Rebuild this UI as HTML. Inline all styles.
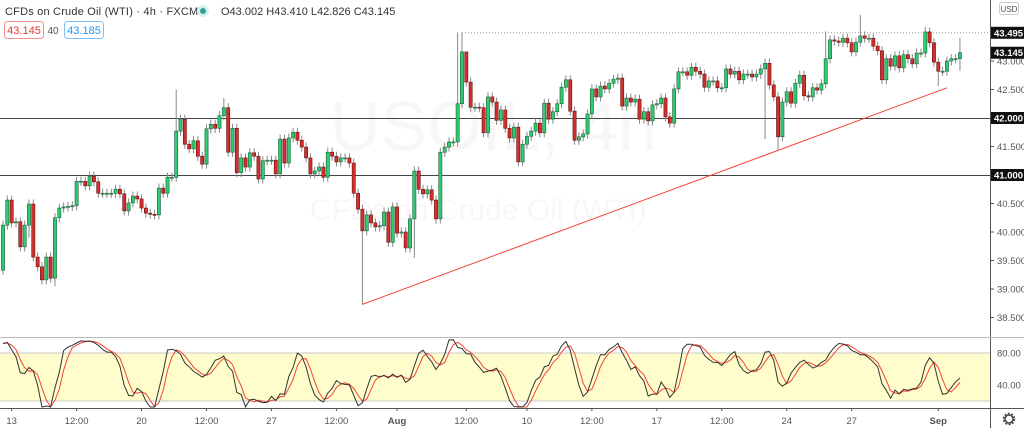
<!DOCTYPE html>
<html><head><meta charset="utf-8"><style>
html,body{margin:0;padding:0;background:#fff;width:1024px;height:428px;overflow:hidden;font-family:"Liberation Sans",sans-serif}
svg{display:block}
</style></head><body>
<svg id="c" width="1024" height="428" viewBox="0 0 1024 428" xmlns="http://www.w3.org/2000/svg">
<text x="330" y="150" font-size="70" fill="#f7f7f7">USOIL, 4h</text>
<text x="310" y="220" font-size="30" fill="#f7f7f7">CFDs on Crude Oil (WTI)</text>
<g id="main"></g>
<rect x="990" y="0" width="34" height="428" fill="#fff"/>
<line x1="990.5" y1="0" x2="990.5" y2="428" stroke="#555" stroke-width="1"/>
<line x1="0" y1="337.5" x2="1024" y2="337.5" stroke="#bbb" stroke-width="1"/>
<line x1="0" y1="408.5" x2="1024" y2="408.5" stroke="#555" stroke-width="1"/>
<g id="axis"></g>
<text x="5" y="15" font-size="11" fill="#333" letter-spacing="0.2">CFDs on Crude Oil (WTI) · 4h · FXCM</text>
<circle cx="203" cy="11" r="6" fill="#d6f0ec"/>
<circle cx="203" cy="11" r="3" fill="#26a69a"/>
<text x="221" y="15" font-size="11" fill="#333">O43.002 H43.410 L42.826 C43.145</text>
<rect x="4.5" y="21.5" width="39" height="17" rx="3" fill="#fff" stroke="#f09090"/>
<text x="24" y="34" font-size="11" fill="#e53935" text-anchor="middle">43.145</text>
<text x="53" y="34" font-size="10" fill="#555" text-anchor="middle">40</text>
<rect x="64.5" y="21.5" width="39" height="17" rx="3" fill="#fff" stroke="#7fbff5"/>
<text x="84" y="34" font-size="11" fill="#2196f3" text-anchor="middle">43.185</text>
<rect x="999.5" y="2.5" width="19" height="12" rx="2" fill="#fff" stroke="#ccc"/>
<text x="1009" y="12" font-size="8" fill="#555" text-anchor="middle">USD</text>
<g transform="translate(1009,419)">
<circle r="4" fill="none" stroke="#444" stroke-width="1.5"/>
<circle r="5.5" fill="none" stroke="#444" stroke-width="1.5" stroke-dasharray="2 1.5"/>
</g>
</svg>
<script>
const closes=[40.12,40.56,40.16,40.18,39.74,40.12,40.49,39.56,39.39,39.16,39.56,39.19,40.25,40.42,40.44,40.45,40.46,40.89,40.89,40.81,40.98,40.88,40.68,40.68,40.68,40.68,40.75,40.67,40.37,40.51,40.63,40.58,40.42,40.33,40.31,40.30,40.77,40.68,40.96,40.96,41.77,41.98,41.54,41.46,41.60,41.33,41.19,41.81,41.89,41.82,42.04,42.18,41.40,41.82,41.04,41.30,41.14,41.39,41.33,40.93,41.25,41.26,41.26,41.02,41.63,41.21,41.65,41.75,41.61,41.49,41.30,41.02,41.07,41.14,40.96,41.40,41.33,41.23,41.30,41.30,41.21,40.68,40.40,40.02,40.30,40.16,40.09,40.11,40.35,39.82,40.44,39.98,40.00,39.72,40.23,41.07,40.75,40.67,40.74,40.56,40.23,41.40,41.49,41.58,41.58,42.25,43.16,42.63,42.19,42.19,42.18,41.74,42.37,42.28,41.96,42.14,41.82,41.65,41.84,41.23,41.54,41.68,41.77,41.91,41.74,42.26,41.98,42.11,42.25,42.54,42.67,42.12,41.61,41.67,41.72,42.07,42.51,42.37,42.56,42.51,42.61,42.68,42.70,42.21,42.35,42.28,42.33,41.98,42.11,41.95,42.23,42.25,42.35,42.02,41.91,42.51,42.81,42.81,42.75,42.89,42.82,42.77,42.54,42.65,42.65,42.53,42.53,42.86,42.77,42.82,42.67,42.77,42.77,42.72,42.77,42.86,42.96,42.58,42.37,41.67,42.28,42.46,42.26,42.61,42.75,42.39,42.37,42.53,42.49,42.60,43.04,43.37,43.35,43.33,43.40,43.32,43.16,43.33,43.44,43.40,43.40,43.26,43.18,42.67,43.04,42.91,43.09,42.88,43.11,43.04,42.95,43.14,43.14,43.51,43.32,42.98,42.82,42.82,43.00,43.04,43.04,43.145];
const firstOpen=39.33;
const highOverrides={40:42.50,51:42.35,105:43.50,106:43.50,107:43.00,198:43.81,213:43.60,221:43.41,190:43.52};
const lowOverrides={83:38.73,176:41.63,179:41.45,216:42.56,221:42.83,12:39.05,95:39.55,6:39.90};
const priceTicks=[38.5,39.0,39.5,40.0,40.5,41.0,41.5,42.0,42.5,43.0];
const levelLines=[42.0,41.0];
const badgeValues=[43.495,43.145,42.000,41.000];
const trendStart=[83,38.73], trendEnd=[218,42.53];
const stochTicks=[80,40];
const timeLabels=["13","12:00","20","12:00","27","12:00","Aug","12:00","10","12:00","17","12:00","24","27","Sep"];
const timeIdx=[2,17,32,47,62,77,91,107,121,136,151,166,181,196,216];

const NS="http://www.w3.org/2000/svg";
const X0=3, DX=4.33;
const xS=i=>X0+i*DX;
const yP=p=>118-(p-42)*57;
const yK=v=>353+(80-v)*0.82;
function mk(tag,attrs,parent){const e=document.createElementNS(NS,tag);for(const k in attrs)e.setAttribute(k,attrs[k]);parent.appendChild(e);return e;}
const main=document.getElementById('main'), axis=document.getElementById('axis');
const WICK=0.08;
const opens=closes.map((c,i)=>i===0?firstOpen:closes[i-1]);
const highs=closes.map((c,i)=>highOverrides[i]!==undefined?highOverrides[i]:Math.max(c,opens[i])+WICK);
const lows=closes.map((c,i)=>lowOverrides[i]!==undefined?lowOverrides[i]:Math.min(c,opens[i])-WICK);

levelLines.forEach(v=>{const l=mk('line',{x1:0,x2:990,y1:yP(v)+0.5,y2:yP(v)+0.5,stroke:'#444','stroke-width':1},main);

});
const dl=mk('line',{x1:xS(106),x2:990,y1:yP(43.495),y2:yP(43.495),stroke:'#999','stroke-width':1,'stroke-dasharray':'1 2'},main);



closes.forEach((c,i)=>{
 const o=opens[i],up=c>=o,x=xS(i);
 const g=mk('g',{},main);
 
 
 mk('line',{x1:x,x2:x,y1:yP(highs[i]),y2:yP(lows[i]),stroke:'#888','stroke-width':1},g);
 const t=yP(Math.max(o,c)),b=yP(Math.min(o,c));
 mk('rect',{x:x-1.6,y:t,width:3.2,height:Math.max(1,b-t),fill:up?'#2ecc71':'#d32f2f',stroke:up?'#1e5e3a':'#6b1010','stroke-width':0.6},g);
});
const tl=mk('line',{x1:xS(trendStart[0]),y1:yP(trendStart[1]),x2:xS(trendEnd[0]),y2:yP(trendEnd[1]),stroke:'#f44336','stroke-width':1},main);



const band=mk('rect',{x:0,y:353,width:990,height:48,fill:'#fffdcc'},main);


[353,401].forEach(y=>mk('line',{x1:0,x2:990,y1:y,y2:y,stroke:'#c8c8c8','stroke-width':1},main));
const N=14;
const k=closes.map((c,i)=>{const s=Math.max(0,i-N+1);const hh=Math.max(...highs.slice(s,i+1)),ll=Math.min(...lows.slice(s,i+1));return hh===ll?50:100*(c-ll)/(hh-ll);});
const sma=(a,n)=>a.map((v,i)=>{const s=Math.max(0,i-n+1);const sl=a.slice(s,i+1);return sl.reduce((p,q)=>p+q,0)/sl.length;});
const K=sma(k,3), D=sma(K,3);
const pts=a=>a.map((v,i)=>xS(i).toFixed(1)+','+Math.max(339,Math.min(407,yK(v))).toFixed(1)).join(' ');
const dp=mk('polyline',{points:pts(D),fill:'none',stroke:'#f44336','stroke-width':1},main);


const kp=mk('polyline',{points:pts(K),fill:'none',stroke:'#333','stroke-width':1},main);



priceTicks.forEach(v=>{mk('line',{x1:990,x2:994,y1:yP(v),y2:yP(v),stroke:'#555'},axis);
 const t=mk('text',{x:997,y:yP(v)+3.5,'font-size':9.5,fill:'#555'},axis);t.textContent=v.toFixed(3);
 
 });
badgeValues.forEach(v=>{const y=yP(v);
 const r=mk('rect',{x:991,y:y-6,width:33,height:12,fill:'#111'},axis);
 
 
 const t=mk('text',{x:994,y:y+3.5,'font-size':9.5,fill:'#fff','font-weight':'bold'},axis);t.textContent=v.toFixed(3);});
stochTicks.forEach(v=>{const y=v===80?353:385;const t=mk('text',{x:997,y:y+3.5,'font-size':9.5,fill:'#555'},axis);t.textContent=v.toFixed(2);
 
 });
timeLabels.forEach((s,j)=>{const x=xS(timeIdx[j]);
 mk('line',{x1:x,x2:x,y1:408,y2:411,stroke:'#555'},axis);
 const t=mk('text',{x:x,y:424,'font-size':9.5,fill:'#555','text-anchor':'middle','font-weight':(s==='Aug'||s==='Sep')?'bold':'normal'},axis);t.textContent=s;
 
 });
</script>
</body></html>
